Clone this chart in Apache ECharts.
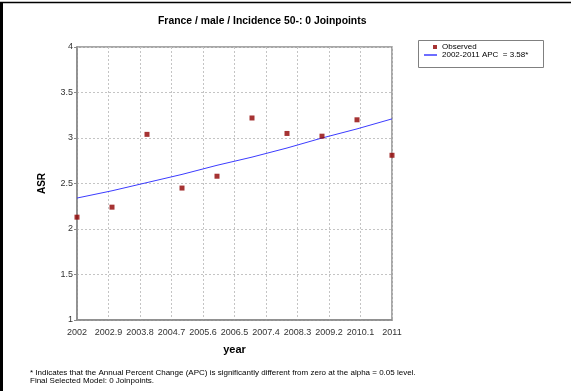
<!DOCTYPE html>
<html>
<head>
<meta charset="utf-8">
<script src="https://cdn.jsdelivr.net/npm/echarts@6/dist/echarts.min.js"></script>
<style>
  html, body { margin: 0; padding: 0; background: #fff; }
  #chart { width: 571px; height: 391px; }
</style>
</head>
<body>
<div id="chart"></div>
<script>
// Observed age-standardised rates and the fitted joinpoint model (0 joinpoints)
const years = [2002, 2003, 2004, 2005, 2006, 2007, 2008, 2009, 2010, 2011];
const observed = [2.13, 2.24, 3.04, 2.45, 2.58, 3.22, 3.05, 3.02, 3.20, 2.81];
const fitted = [2.34, 2.42, 2.51, 2.60, 2.70, 2.79, 2.89, 3.00, 3.10, 3.21];
const xTickLabels = ['2002', '2002.9', '2003.8', '2004.7', '2005.6', '2006.5',
                     '2007.4', '2008.3', '2009.2', '2010.1', '2011'];
const yTickLabels = ['1', '1.5', '2', '2.5', '3', '3.5', '4'];
const seriesNames = ['Observed', '2002-2011 APC  = 3.58*'];

const baseYear = years[0];
const font = '"Liberation Sans", Arial, sans-serif';

const chart = echarts.init(document.getElementById('chart'), null, { renderer: 'canvas' });

chart.setOption({
  animation: false,
  backgroundColor: '#fff',
  textStyle: { fontFamily: font },
  title: {
    text: 'France / male / Incidence 50-: 0 Joinpoints',
    left: 158, top: 16, padding: 0,
    textStyle: { fontFamily: font, fontSize: 10.4, fontWeight: 'bold', color: '#000' }
  },
  grid: {
    left: 77, right: 179, top: 47, bottom: 71,
    show: true, borderColor: '#8a8a8a', borderWidth: 1.5, backgroundColor: 'transparent'
  },
  xAxis: {
    type: 'value', min: 0, max: years[years.length - 1] - baseYear, interval: 0.9,
    name: 'year', nameLocation: 'middle', nameGap: 24,
    nameTextStyle: { fontFamily: font, fontSize: 11, fontWeight: 'bold', color: '#000' },
    axisLine: { show: true, lineStyle: { color: '#8a8a8a', width: 1.5 } },
    axisTick: { show: false },
    axisLabel: {
      margin: 8, fontSize: 9, color: '#333', fontFamily: font,
      formatter: (v, i) => xTickLabels[i]
    },
    splitLine: { show: true, lineStyle: { color: '#c4c4c4', type: [2, 2], width: 1 } }
  },
  yAxis: {
    type: 'value', min: 1, max: 4, interval: 0.5,
    name: 'ASR', nameLocation: 'middle', nameGap: 30, nameRotate: 90,
    nameTextStyle: { fontFamily: font, fontSize: 10, fontWeight: 'bold', color: '#000' },
    axisLine: { show: true, lineStyle: { color: '#8a8a8a', width: 1.5 } },
    axisTick: { show: true, length: 3, lineStyle: { color: '#8a8a8a' } },
    axisLabel: {
      margin: 4, fontSize: 9, color: '#333', fontFamily: font,
      formatter: (v, i) => yTickLabels[i]
    },
    splitLine: { show: true, lineStyle: { color: '#c4c4c4', type: [2, 2], width: 1 } }
  },
  legend: [
    {
      data: [seriesNames[0]], orient: 'vertical', left: 433, top: 43,
      padding: 0, icon: 'rect', itemWidth: 4, itemHeight: 4,
      textStyle: { fontFamily: font, fontSize: 8, color: '#000' }
    },
    {
      data: [{ name: seriesNames[1], itemStyle: { color: '#3c3cff' } }],
      orient: 'vertical', left: 424, top: 51,
      padding: 0, icon: 'rect', itemWidth: 13, itemHeight: 1.5,
      textStyle: { fontFamily: font, fontSize: 8, color: '#000' }
    }
  ],
  series: [
    {
      name: seriesNames[0], type: 'scatter', symbol: 'rect', symbolSize: 5,
      itemStyle: { color: '#900000' },
      data: years.map((y, i) => [y - baseYear, observed[i]]),
      z: 3
    },
    {
      name: seriesNames[1], type: 'line', showSymbol: false, symbol: 'none',
      lineStyle: { color: '#3c3cff', width: 1 },
      itemStyle: { color: '#3c3cff' },
      data: years.map((y, i) => [y - baseYear, fitted[i]]),
      z: 2
    }
  ],
  graphic: [
    // outer frame edges
    { type: 'line', shape: { x1: 1.5, y1: 2, x2: 1.5, y2: 391 }, style: { stroke: '#000', lineWidth: 3 } },
    { type: 'line', shape: { x1: 0, y1: 2.5, x2: 571, y2: 2.5 }, style: { stroke: '#000', lineWidth: 1.5 } },
    // legend box
    { type: 'rect', shape: { x: 418.5, y: 40.5, width: 125, height: 27 },
      style: { stroke: '#808080', fill: 'none', lineWidth: 1 }, z: -1 },
    // footnotes
    { type: 'text', left: 30, top: 369,
      style: { text: '* Indicates that the Annual Percent Change (APC) is significantly different from zero at the alpha = 0.05 level.',
               font: '8px "Liberation Sans", Arial, sans-serif', fill: '#000' } },
    { type: 'text', left: 30, top: 377,
      style: { text: 'Final Selected Model: 0 Joinpoints.',
               font: '8px "Liberation Sans", Arial, sans-serif', fill: '#000' } }
  ]
});
</script>
</body>
</html>
